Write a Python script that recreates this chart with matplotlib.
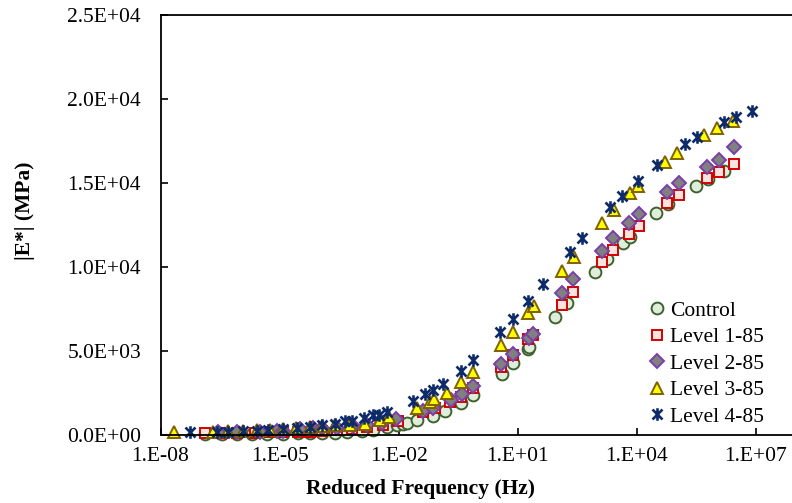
import matplotlib
matplotlib.use("Agg")
import matplotlib.pyplot as plt
import numpy as np
from matplotlib.path import Path
from matplotlib.ticker import FixedLocator, FuncFormatter, NullLocator

plt.rcParams['font.family'] = ['Liberation Serif', 'DejaVu Serif']

# reduced frequency (Hz) and |E*| (MPa)
freq_control = [1.3e-7, 3.5e-7, 8.5e-7, 2.0e-6, 4.8e-6, 1.2e-5, 2.9e-5, 5.8e-5, 1.2e-4, 2.5e-4,
                5.0e-4, 1.2e-3, 2.2e-3, 5.1e-3, 9.1e-3, 1.3e-2, 1.6e-2, 2.9e-2, 7.3e-2, 0.15,
                0.37, 0.74, 4.0, 7.6, 18, 19, 87, 170, 880, 1800,
                4400, 6700, 3.0e4, 6.0e4, 3.1e5, 6.2e5, 1.6e6]
e_control = [24, 30, 42, 42, 48, 54, 71, 89, 101, 119,
             179, 238, 280, 458, 577, 637, 714, 857, 1083, 1381,
             1887, 2333, 3613, 4285, 5101, 5238, 6988, 7821, 9684, 10446,
             11410, 11749, 13213, 13731, 14820, 15219, 15713]

freq_lv1 = [1.3e-7, 3.5e-7, 8.5e-7, 2.4e-6, 5.7e-6, 1.2e-5, 2.9e-5, 5.8e-5, 1.2e-4, 2.8e-4,
            6.6e-4, 1.6e-3, 4.0e-3, 9.6e-3, 4.1e-2, 8.2e-2, 0.20, 0.37, 0.74, 3.8,
            7.6, 18, 24, 130, 245, 1300, 2500, 6300, 1.1e4, 5.7e4,
            1.15e5, 5.9e5, 1.2e6, 2.8e6]
e_lv1 = [71, 83, 101, 113, 131, 143, 161, 190, 220, 250,
         339, 458, 577, 786, 1369, 1571, 1964, 2262, 2762, 4047,
         4744, 5678, 5934, 7720, 8511, 10297, 10993, 11928, 12440, 13773,
         14267, 15261, 15654, 16094]

freq_lv2 = [2.8e-7, 8.5e-7, 3.2e-6, 8.6e-6, 1.2e-5, 3.3e-5, 6.9e-5, 1.2e-4, 2.8e-4, 7.1e-4,
            1.6e-3, 3.8e-3, 8.6e-3, 4.1e-2, 7.3e-2, 0.21, 0.39, 0.74, 3.8, 7.6,
            19, 24, 130, 245, 1300, 2500, 6300, 1.1e4, 5.7e4, 1.15e5,
            5.9e5, 1.2e6, 2.8e6]
e_lv2 = [131, 161, 190, 220, 232, 310, 369, 399, 411, 488,
         577, 696, 905, 1411, 1571, 2065, 2422, 2869, 4190, 4821,
         5738, 5994, 8416, 9267, 10934, 11690, 12583, 13124, 14463, 14963,
         15951, 16350, 17106]

freq_lv3 = [2.2e-8, 2.1e-7, 5.0e-7, 1.2e-6, 2.7e-6, 5.7e-6, 1.2e-5, 2.6e-5, 5.8e-5, 1.2e-4,
            2.5e-4, 5.9e-4, 1.4e-3, 3.4e-3, 5.7e-3, 2.9e-2, 6.1e-2, 7.8e-2, 0.16, 0.37,
            0.74, 3.8, 7.6, 18, 26, 130, 260, 1300, 2600, 6700,
            1.05e4, 5.1e4, 1.0e5, 4.9e5, 1.05e6, 2.6e6]
e_lv3 = [131, 190, 202, 220, 250, 280, 310, 369, 429, 488,
         548, 577, 637, 857, 1024, 1571, 1928, 2095, 2500, 3155,
         3714, 5339, 6131, 7226, 7660, 9761, 10606, 12618, 13374, 14404,
         14803, 16249, 16785, 17838, 18237, 18689]

freq_lv4 = [5.4e-8, 2.6e-7, 5.0e-7, 1.2e-6, 2.7e-6, 5.2e-6, 1.2e-5, 2.7e-5, 5.8e-5, 1.2e-4,
            2.5e-4, 4.5e-4, 6.6e-4, 1.3e-3, 2.3e-3, 3.1e-3, 5.0e-3, 2.3e-2, 4.7e-2, 7.1e-2,
            0.13, 0.36, 0.73, 3.6, 7.4, 18, 43, 210, 420, 2100,
            4300, 1.05e4, 3.2e4, 1.6e5, 3.3e5, 1.6e6, 3.2e6, 7.9e6]
e_lv4 = [131, 190, 190, 220, 220, 280, 321, 417, 476, 548,
         637, 815, 833, 976, 1143, 1173, 1369, 2024, 2393, 2631,
         3018, 3809, 4464, 6113, 6887, 7976, 8952, 10892, 11725, 13535,
         14225, 15118, 16053, 17285, 17701, 18594, 18927, 19285]

labels = ['Control', 'Level 1-85', 'Level 2-85', 'Level 3-85', 'Level 4-85']
x_ticks = [1e-8, 1e-5, 1e-2, 1e1, 1e4, 1e7]
y_ticks = [0, 5000, 10000, 15000, 20000, 25000]

# excel style star: an X with a vertical bar through it
star = Path([(-1, -1), (1, 1), (-1, 1), (1, -1), (0, -1.25), (0, 1.25)],
            [Path.MOVETO, Path.LINETO, Path.MOVETO, Path.LINETO, Path.MOVETO, Path.LINETO])

styles = [
    dict(marker='o', ms=8.5, mfc='#dfeedb', mec='#3f6130', mew=1.4),
    dict(marker='s', ms=7.5, mfc='#fde3dd', mec='#d40000', mew=1.4),
    dict(marker='D', ms=7, mfc='#808080', mec='#7a3fa8', mew=1.4),
    dict(marker='^', ms=8.5, mfc='#ffff00', mec='#806000', mew=1.4),
    dict(marker=star, ms=9, mfc='none', mec='#0d2a6b', mew=1.9),
]
series = [(freq_control, e_control), (freq_lv1, e_lv1), (freq_lv2, e_lv2),
          (freq_lv3, e_lv3), (freq_lv4, e_lv4)]

fig = plt.figure(figsize=(7.92, 5.03), dpi=100)
ax = fig.add_axes([0.2027, 0.1358, 0.802, 0.835])

for (f, e), lab, st in zip(series, labels, styles):
    ax.plot(f, e, linestyle='none', label=lab, clip_on=False, **st)

ax.set_xscale('log')
ax.set_xlim(1e-8, 1e8)
ax.set_ylim(0, 25000)
ax.xaxis.set_major_locator(FixedLocator(x_ticks))
ax.xaxis.set_minor_locator(NullLocator())
ax.xaxis.set_major_formatter(FuncFormatter(lambda v, p: '1.E%+03d' % round(np.log10(v))))
ax.yaxis.set_major_locator(FixedLocator(y_ticks))
ax.yaxis.set_major_formatter(FuncFormatter(lambda v, p: '%.1E' % v))

for s in ax.spines.values():
    s.set_linewidth(1.3)
ax.tick_params(direction='in', length=5, width=1.2, labelsize=15.5)
ax.tick_params(axis='y', pad=14)
ax.tick_params(axis='x', pad=9)

fig.text(25 / 792, 1 - 211 / 503, '|E*| (MPa)', rotation=90, ha='center', va='center',
         fontsize=15.5, fontweight='bold')
fig.text(421 / 792, 1 - 489 / 503, 'Reduced Frequency (Hz)', ha='center', va='center',
         fontsize=15.5, fontweight='bold')

ax.legend(loc='upper left', bbox_to_anchor=(0.755, 0.345), frameon=False, fontsize=15.5,
          handlelength=0.6, handletextpad=0.3, labelspacing=0.3, borderpad=0)

fig.savefig('out.png', dpi=100)
